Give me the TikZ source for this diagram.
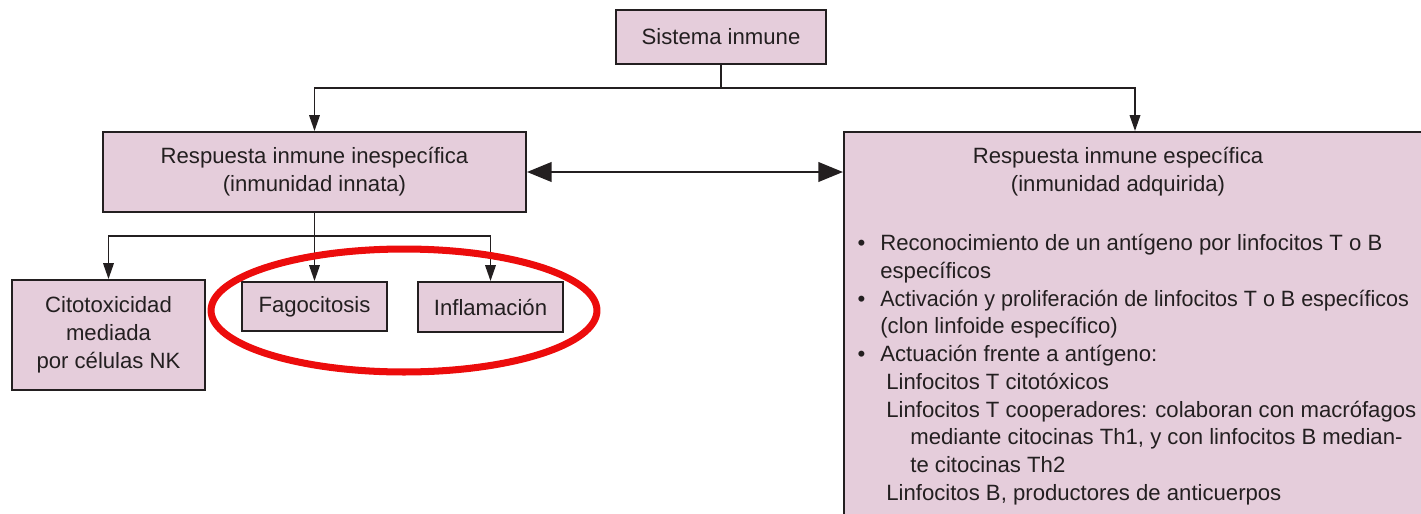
\documentclass[tikz,border=0pt]{standalone}
\usepackage{fontspec}
\usepackage{graphicx}
\setmainfont{Liberation Sans}
\usetikzlibrary{arrows.meta}
\definecolor{rosa}{RGB}{229,205,219}
\definecolor{tinta}{RGB}{35,31,32}
\definecolor{marca}{RGB}{236,12,12}
\newcommand{\vineta}{\llap{\textbullet\hspace{0.3cm}}}

\begin{document}
\begin{tikzpicture}[x=0.02cm, y=-0.02cm, >={Triangle[length=9pt,width=6pt]},
  every node/.style={font=\fontsize{12.6}{15.8}\selectfont},
  caja/.style={draw=tinta, line width=1.1pt, fill=rosa, text=tinta, align=center, inner sep=0pt},
  texto/.style={text=tinta, inner sep=0pt},
  linea/.style={draw=tinta, line width=0.9pt}]

\useasboundingbox (0,0) rectangle (1421,514);

% cajas principales
\node[caja, minimum width=4.2cm, minimum height=1.08cm] (sist) at (721,37) {Sistema inmune};
\node[caja, minimum width=8.46cm, minimum height=1.6cm] (inesp) at (314.5,172) {Respuesta inmune inespecífica\\(inmunidad innata)};
\node[caja, anchor=north west, minimum width=12cm, minimum height=8cm] (espec) at (843,131) {};

% respuesta inespecifica
\node[caja, minimum width=3.86cm, minimum height=2.2cm] (nk) at (108.5,335) {Citotoxicidad\\mediada\\por células NK};
\node[caja, minimum width=2.9cm, minimum height=0.98cm] (fago) at (314.5,306.5) {Fagocitosis};
\node[caja, minimum width=2.9cm, minimum height=1cm] (infl) at (490.5,307) {Inflamación};

% respuesta especifica
\node[texto, align=center] (especT) at (1118,172) {Respuesta inmune específica\\(inmunidad adquirida)};
\foreach \px/\py/\txt [count=\i] in {
  880/250/{\vineta Reconocimiento de un antígeno por linfocitos T o B},
  880/278/{específicos},
  880/306/{\vineta\scalebox{0.972}[1]{Activación y proliferación de linfocitos T o B específicos}},
  880/333/{(clon linfoide específico)},
  880/361/{\vineta Actuación frente a antígeno:},
  886/389/{Linfocitos T citotóxicos},
  886/417/{Linfocitos T cooperadores: colaboran con macrófagos},
  910/444/{mediante citocinas Th1, y con linfocitos B median-},
  910/472/{te citocinas Th2},
  886/500/{Linfocitos B, productores de anticuerpos}}
  \node[texto, anchor=base west] (l\i) at (\px,\py) {\txt};

% flechas
\coordinate (bifur) at (721,88);
\coordinate (especN) at (1135,131);
\draw[linea] (sist.south) -- (bifur);
\draw[linea, ->] (bifur) -| (inesp.north);
\draw[linea, ->] (bifur) -| (especN);
\draw[linea, line width=1.6pt, {Triangle[length=14pt,width=11pt]}-{Triangle[length=14pt,width=11pt]}] (inesp.east) -- (espec.west |- inesp.east);

\coordinate (rama) at (314.5,236);
\draw[linea] (inesp.south) -- (rama);
\draw[linea, ->] (rama) -| (nk.north);
\draw[linea, ->] (rama) -- (fago.north);
\draw[linea, ->] (rama) -| (infl.north);

% marca roja
\draw[marca, line width=4pt] (404,310.5) ellipse [x radius=3.86cm, y radius=1.23cm];

\end{tikzpicture}
\end{document}
